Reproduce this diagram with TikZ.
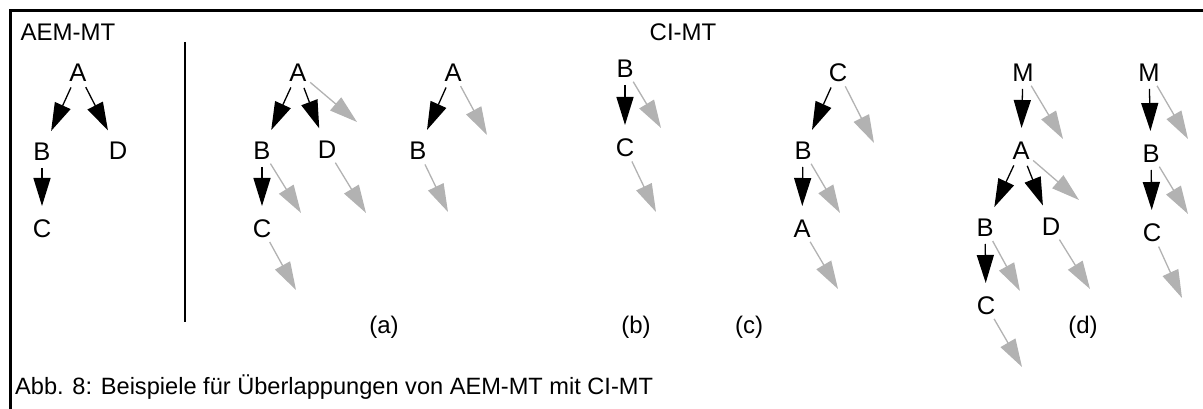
\documentclass[tikz,border=0pt]{standalone}
\usepackage{fontspec}
\setmainfont{Liberation Sans}
\usetikzlibrary{arrows.meta}

\definecolor{arrowgrey}{RGB}{178,178,178}

\tikzset{
  lbl/.style={font=\fontsize{25.5}{30}\selectfont, inner sep=0pt, text height=18.3pt, text depth=0pt, anchor=center},
  txt/.style={font=\fontsize{24}{28}\selectfont, inner sep=0pt},
  captxt/.style={font=\fontsize{23.6}{28}\selectfont, inner sep=0pt},
  blk/.style={draw=black, line width=1.3pt, -{Triangle[length=28pt,width=17pt]}, shorten <=17pt, shorten >=22pt},
  gry/.style={draw=arrowgrey, line width=1.3pt, -{Triangle[length=28pt,width=17pt]}, shorten <=16pt},
  frame/.style={line width=2.7pt}
}

\begin{document}
\begin{tikzpicture}[x=1pt,y=-1pt]
\useasboundingbox (0,0) rectangle (1203,409);

% frame and divider
\draw[frame] (9.2,10.5) -- (1203,10.5);
\draw[frame] (10.5,9.2) -- (10.5,409);
\draw[line width=2.5pt] (185,42) -- (185,322);

% headings
\node[txt] (hAEM) at (68,32) {AEM-MT};
\node[txt] (hCI) at (683,32) {CI-MT};

% AEM-MT tree
\node[lbl] (eA) at (78,72) {A};
\node[lbl] (eB) at (42,151) {B};
\node[lbl] (eD) at (118,150) {D};
\node[lbl] (eC) at (42,228) {C};
\draw[blk] (eA.center) -- (eB.center);
\draw[blk] (eA.center) -- (eD.center);
\draw[blk] (eB.center) -- (eC.center);

% (a) first tree
\node[lbl] (a1A) at (298,72) {A};
\node[lbl] (a1B) at (262,150) {B};
\node[lbl] (a1D) at (327,149) {D};
\node[lbl] (a1C) at (262,228) {C};
\coordinate (a1Ae) at (357,122);
\coordinate (a1Be) at (301,213);
\coordinate (a1De) at (366,213);
\coordinate (a1Ce) at (296,290);
\draw[blk] (a1A.center) -- (a1B.center);
\draw[blk] (a1A.center) -- (a1D.center);
\draw[blk] (a1B.center) -- (a1C.center);
\draw[gry] (a1A.center) -- (a1Ae);
\draw[gry] (a1B.center) -- (a1Be);
\draw[gry] (a1D.center) -- (a1De);
\draw[gry] (a1C.center) -- (a1Ce);

% (a) second tree
\node[lbl] (a2A) at (453,72) {A};
\node[lbl] (a2B) at (418,150) {B};
\coordinate (a2Ae) at (487,135);
\coordinate (a2Be) at (448,212);
\draw[blk] (a2A.center) -- (a2B.center);
\draw[gry] (a2A.center) -- (a2Ae);
\draw[gry] (a2B.center) -- (a2Be);

% (b)
\node[lbl] (bB) at (625,68) {B};
\node[lbl] (bC) at (625,147) {C};
\coordinate (bBe) at (661,128);
\coordinate (bCe) at (656,212);
\draw[blk] (bB.center) -- (bC.center);
\draw[gry] (bB.center) -- (bBe);
\draw[gry] (bC.center) -- (bCe);

% (c)
\node[lbl] (cC) at (838,72) {C};
\node[lbl] (cB) at (803,150) {B};
\node[lbl] (cA) at (802,228) {A};
\coordinate (cCe) at (874,143);
\coordinate (cBe) at (840,213);
\coordinate (cAe) at (838,289);
\draw[blk] (cC.center) -- (cB.center);
\draw[blk] (cB.center) -- (cA.center);
\draw[gry] (cC.center) -- (cCe);
\draw[gry] (cB.center) -- (cBe);
\draw[gry] (cA.center) -- (cAe);

% (d) first tree
\node[lbl] (d1M) at (1023,72) {M};
\node[lbl] (d1A) at (1021,150) {A};
\node[lbl] (d1B) at (985,227) {B};
\node[lbl] (d1D) at (1051,226) {D};
\node[lbl] (d1C) at (986,305) {C};
\coordinate (d1Me) at (1063,139);
\coordinate (d1Ae) at (1079,200);
\coordinate (d1Be) at (1020,291);
\coordinate (d1De) at (1090,289);
\coordinate (d1Ce) at (1022,367);
\draw[blk] (d1M.center) -- (d1A.center);
\draw[blk] (d1A.center) -- (d1B.center);
\draw[blk] (d1A.center) -- (d1D.center);
\draw[blk] (d1B.center) -- (d1C.center);
\draw[gry] (d1M.center) -- (d1Me);
\draw[gry] (d1A.center) -- (d1Ae);
\draw[gry] (d1B.center) -- (d1Be);
\draw[gry] (d1D.center) -- (d1De);
\draw[gry] (d1C.center) -- (d1Ce);

% (d) second tree
\node[lbl] (d2M) at (1149,72) {M};
\node[lbl] (d2B) at (1151,153) {B};
\node[lbl] (d2C) at (1152,232) {C};
\coordinate (d2Me) at (1188,139);
\coordinate (d2Be) at (1188,214);
\coordinate (d2Ce) at (1182,298);
\draw[blk] (d2M.center) -- (d2B.center);
\draw[blk] (d2B.center) -- (d2C.center);
\draw[gry] (d2M.center) -- (d2Me);
\draw[gry] (d2B.center) -- (d2Be);
\draw[gry] (d2C.center) -- (d2Ce);

% sub-figure labels
\node[txt] (la) at (384,327) {(a)};
\node[txt] (lb) at (636,327) {(b)};
\node[txt] (lc) at (749,327) {(c)};
\node[txt] (ld) at (1083,327) {(d)};

% caption
\node[captxt, anchor=base west] (cap) at (15,394) {Abb. 8: Beispiele für Überlappungen von AEM-MT mit CI-MT};
\end{tikzpicture}
\end{document}
